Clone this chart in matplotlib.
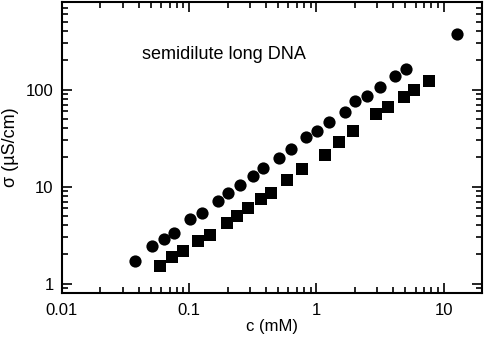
import matplotlib

matplotlib.use("Agg")
import matplotlib.pyplot as plt
from matplotlib.ticker import LogLocator, NullFormatter, FixedLocator, FixedFormatter

plt.rcParams["font.family"] = ["Liberation Sans", "DejaVu Sans"]

# circles
c_circ = [0.0377, 0.0506, 0.0628, 0.0753, 0.1007, 0.1256, 0.167, 0.202, 0.250,
          0.318, 0.381, 0.504, 0.625, 0.824, 1.01, 1.26, 1.67, 2.02, 2.50,
          3.13, 4.15, 5.03, 12.6]
s_circ = [1.70, 2.41, 2.85, 3.32, 4.67, 5.34, 7.11, 8.53, 10.3,
          12.8, 15.5, 19.8, 24.3, 32.4, 37.1, 46.3, 58.3, 76.9, 86.0,
          107, 137, 164, 371]

# squares
c_sq = [0.0589, 0.0731, 0.0891, 0.118, 0.146, 0.198, 0.238, 0.292, 0.367,
        0.441, 0.585, 0.771, 1.16, 1.49, 1.93, 2.96, 3.66, 4.91, 5.85, 7.71]
s_sq = [1.50, 1.89, 2.18, 2.72, 3.19, 4.21, 4.93, 5.97, 7.45,
        8.67, 11.6, 15.1, 21.1, 28.7, 37.4, 56.0, 65.6, 84.0, 98.4, 123]

x_ticks = [0.01, 0.1, 1, 10]
x_labels = ["0.01", "0.1", "1", "10"]
y_ticks = [1, 10, 100]
y_labels = ["1", "10", "100"]

fig = plt.figure(figsize=(4.84, 3.43), dpi=100)
ax = fig.add_axes([0.128, 0.146, 0.868, 0.848])

ax.plot(c_circ, s_circ, "o", color="black", markersize=8.8, markeredgewidth=0)
ax.plot(c_sq, s_sq, "s", color="black", markersize=8.0, markeredgewidth=0)

ax.set_xscale("log")
ax.set_yscale("log")
ax.set_xlim(0.01, 20)
ax.set_ylim(0.8, 800)

ax.xaxis.set_major_locator(FixedLocator(x_ticks))
ax.xaxis.set_major_formatter(FixedFormatter(x_labels))
ax.yaxis.set_major_locator(FixedLocator(y_ticks))
ax.yaxis.set_major_formatter(FixedFormatter(y_labels))
ax.xaxis.set_minor_locator(LogLocator(base=10, subs=range(2, 10)))
ax.yaxis.set_minor_locator(LogLocator(base=10, subs=range(2, 10)))
ax.xaxis.set_minor_formatter(NullFormatter())
ax.yaxis.set_minor_formatter(NullFormatter())

ax.tick_params(which="both", direction="in", top=True, right=True,
               width=1.2, labelsize=12)
ax.tick_params(axis="x", which="major", length=7, pad=7)
ax.tick_params(axis="y", which="major", length=7, pad=6)
ax.tick_params(which="minor", length=4)
for sp in ax.spines.values():
    sp.set_linewidth(1.5)

ax.set_xlabel("c (mM)", fontsize=12, labelpad=1)
ax.set_ylabel("σ (µS/cm)", fontsize=13, labelpad=5)
ax.text(0.0427, 232, "semidilute long DNA", fontsize=13, ha="left", va="center")

fig.savefig("out.png", dpi=100)
